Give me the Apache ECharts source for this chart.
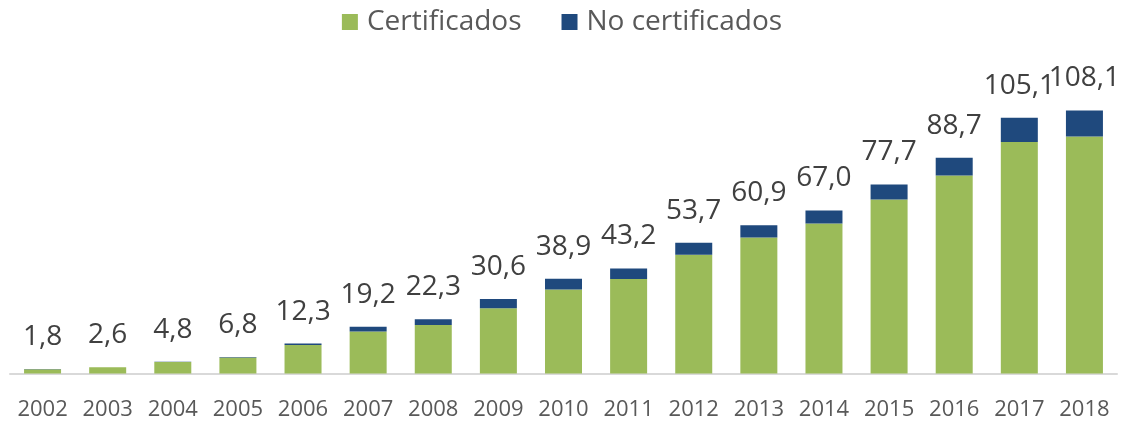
<!DOCTYPE html>
<html>
<head>
<meta charset="utf-8">
<script src="https://cdn.jsdelivr.net/npm/echarts@6/dist/echarts.min.js"></script>
<style>
  html, body { margin: 0; padding: 0; background: #fff; }
  #chart { width: 1124px; height: 427px; }
</style>
</head>
<body>
<div id="chart"></div>
<script>
  // años
  var years = ['2002', '2003', '2004', '2005', '2006', '2007', '2008', '2009', '2010',
               '2011', '2012', '2013', '2014', '2015', '2016', '2017', '2018'];
  var certificados = [1.75, 2.55, 4.7, 6.6, 11.7, 17.3, 19.9, 26.8, 34.5,
                      38.8, 48.8, 55.9, 61.6, 71.5, 81.4, 95.1, 97.4];
  var noCertificados = [0.05, 0.05, 0.1, 0.2, 0.6, 1.9, 2.4, 3.8, 4.4,
                        4.4, 4.9, 5.0, 5.4, 6.2, 7.3, 10.0, 10.7];
  // etiquetas de total
  var totales = ['1,8', '2,6', '4,8', '6,8', '12,3', '19,2', '22,3', '30,6', '38,9',
                 '43,2', '53,7', '60,9', '67,0', '77,7', '88,7', '105,1', '108,1'];

  var chart = echarts.init(document.getElementById('chart'));
  var option = {
    animation: false,
    textStyle: { fontFamily: '"Open Sans", sans-serif' },
    legend: {
      top: 3,
      left: 'center',
      itemWidth: 16,
      itemHeight: 16,
      itemGap: 40,
      icon: 'rect',
      textStyle: { color: '#595959', fontSize: 28, padding: [0, 0, 0, 4] },
      data: ['Certificados', 'No certificados']
    },
    grid: {
      left: 10,
      right: 7,
      top: 81.5,
      bottom: 53.5
    },
    xAxis: {
      type: 'category',
      data: years,
      axisLine: { lineStyle: { color: '#d9d9d9', width: 2 } },
      axisTick: { show: false },
      axisLabel: {
        color: '#595959',
        fontSize: 22,
        margin: 25,
        interval: 0,
        hideOverlap: false
      }
    },
    yAxis: {
      type: 'value',
      min: 0,
      max: 120,
      show: false,
      splitLine: { show: false }
    },
    series: [
      {
        name: 'Certificados',
        type: 'bar',
        stack: 'total',
        barWidth: 37,
        itemStyle: { color: '#9bbb59' },
        data: certificados
      },
      {
        name: 'No certificados',
        type: 'bar',
        stack: 'total',
        barWidth: 37,
        itemStyle: { color: '#1f497d' },
        label: {
          show: true,
          position: 'top',
          distance: 18,
          color: '#404040',
          fontSize: 28,
          formatter: function (p) { return totales[p.dataIndex]; }
        },
        data: noCertificados
      }
    ]
  };
  chart.setOption(option);
</script>
</body>
</html>
